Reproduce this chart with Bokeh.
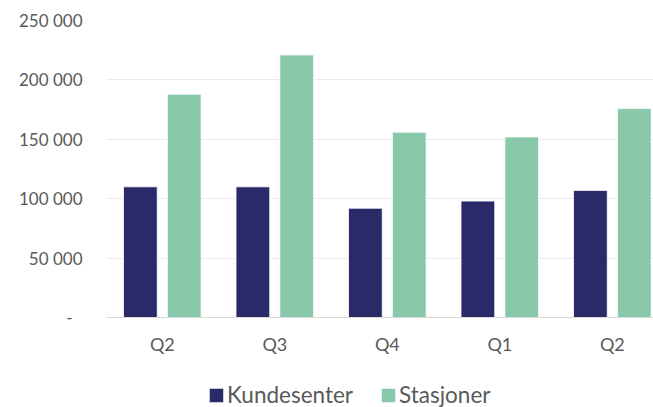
from bokeh.plotting import figure
from bokeh.models import ColumnDataSource, Range1d, FixedTicker, Legend, LegendItem, Span
from bokeh.transform import dodge
from bokeh.core.properties import value
from bokeh.embed import file_html
from bokeh.resources import INLINE

# ---- data ----
quarters = ["Q2", "Q3", "Q4", "Q1", "Q2"]
kundesenter = [110000, 110000, 92000, 98000, 107000]
stasjoner = [188000, 221000, 156000, 152000, 176000]
y_ticks = [0, 50000, 100000, 150000, 200000, 250000]
y_tick_labels = ["-\u2007", "50 000", "100 000", "150 000", "200 000", "250 000"]
series_names = ["Kundesenter", "Stasjoner"]

x_idx = list(range(len(quarters)))
src = ColumnDataSource(dict(x=x_idx, k=kundesenter, s=stasjoner))

NAVY = "#2B2A69"
GREEN = "#89C8AA"
FONT = "Lato"
TXT = "#595959"

# frame runs to the bottom of the canvas; value 0 sits 90 px above it
Y_MAX = 250000
PX_PER_UNIT = 297 / Y_MAX
y_start = -90 / PX_PER_UNIT
label_y = -26 / PX_PER_UNIT

p = figure(width=653, height=407, output_backend="svg", toolbar_location=None,
           x_range=Range1d(-0.496, 4.366), y_range=Range1d(y_start, Y_MAX),
           x_axis_location=None,
           min_border_left=106, min_border_right=0, min_border_top=20, min_border_bottom=0)
p.outline_line_color = None
p.background_fill_color = "white"

r1 = p.vbar(x=dodge("x", -0.195, range=p.x_range), top="k", width=0.3, source=src,
            fill_color=NAVY, line_color="white", line_width=0.8)
r2 = p.vbar(x=dodge("x", 0.195, range=p.x_range), top="s", width=0.3, source=src,
            fill_color=GREEN, line_color="white", line_width=0.8)

# category labels under the baseline
p.text(x=x_idx, y=[label_y] * len(x_idx), text=quarters,
       text_align="center", text_baseline="middle",
       text_font=value(FONT), text_font_size=value("18px"), text_color=TXT)

# baseline
p.add_layout(Span(location=0, dimension="width", line_color="#D9D9D9", line_width=1))

# y axis
p.yaxis.ticker = FixedTicker(ticks=y_ticks)
p.yaxis.major_label_overrides = dict(zip(y_ticks, y_tick_labels))
p.yaxis.axis_line_color = None
p.yaxis.major_tick_line_color = None
p.yaxis.minor_tick_line_color = None
p.yaxis.major_tick_out = 0
p.yaxis.major_tick_in = 0
p.yaxis.major_label_standoff = 24
p.yaxis.major_label_text_font = FONT
p.yaxis.major_label_text_font_size = "17px"
p.yaxis.major_label_text_color = TXT

p.xgrid.grid_line_color = None
p.ygrid.grid_line_color = "#EBEBEB"
p.ygrid.ticker = FixedTicker(ticks=y_ticks)

legend = Legend(items=[LegendItem(label=series_names[0], renderers=[r1]),
                       LegendItem(label=series_names[1], renderers=[r2])],
                orientation="horizontal", location=(101, -1),
                padding=0, margin=0, spacing=26, label_standoff=2,
                glyph_width=18, glyph_height=18,
                label_text_font=FONT, label_text_font_size="22.5px",
                label_text_color=TXT, label_text_baseline="middle",
                border_line_color=None, background_fill_alpha=0)
p.add_layout(legend, "center")

open("out.html", "w").write(file_html(p, INLINE))
